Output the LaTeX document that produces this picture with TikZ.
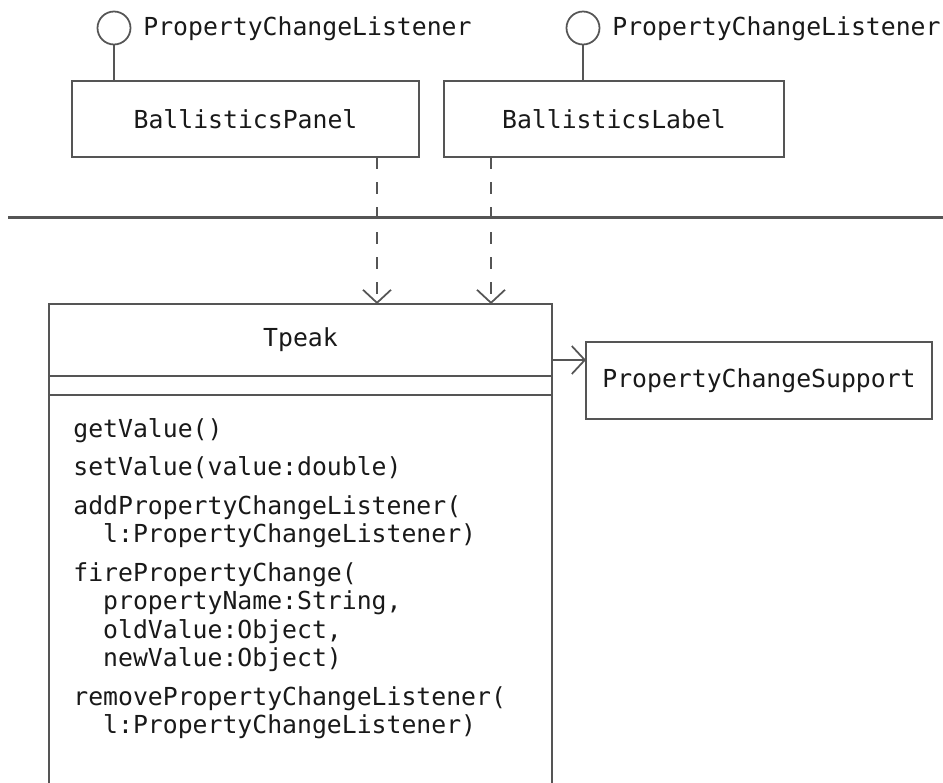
\documentclass[tikz,border=0pt]{standalone}
\usepackage{fontspec}
\newfontfamily\umlfont{DejaVu Sans Mono}
\usetikzlibrary{arrows.meta,positioning}
\definecolor{umlline}{RGB}{85,85,85}
\definecolor{umltext}{RGB}{25,25,25}
\newcommand\umlsize{\umlfont\fontsize{14.1pt}{16.2pt}\selectfont}
\tikzset{
  classbox/.style={draw=umlline,line width=0.4mm,fill=white,inner sep=0pt,outer sep=0pt,font=\umlsize,text=umltext},
  lolly/.style={circle,draw=umlline,line width=0.35mm,minimum size=6.6mm,inner sep=0pt,outer sep=0pt},
  stem/.style={draw=umlline,line width=0.35mm},
  iface/.style={anchor=base west,inner sep=0pt,font=\umlsize,text=umltext},
  optext/.style={anchor=base west,inner sep=0pt,font=\umlsize,text=umltext},
  boundary/.style={draw=umlline,line width=0.6mm},
  depend/.style={-{Straight Barb[length=2.6mm,width=5.6mm]},draw=umlline,line width=0.35mm,dash pattern=on 2.3mm off 2.7mm},
  assoc/.style={-{Straight Barb[length=2.6mm,width=5.6mm]},draw=umlline,line width=0.35mm}
}

\begin{document}
\begin{tikzpicture}[x=0.2mm,y=-0.2mm]
\useasboundingbox (0,0) rectangle (943,783);
\clip (0,0) rectangle (943,783);

% layer boundary
\coordinate (sepL) at (8,217);
\coordinate (sepR) at (943,217);
\draw[boundary] (sepL) -- (sepR);

% view side
\node[classbox,minimum width=69.4mm,minimum height=15.2mm] (panel) at (245.5,119) {BallisticsPanel};
\node[classbox,minimum width=68mm,minimum height=15.2mm] (label) at (614,119) {BallisticsLabel};

\foreach \cls/\x/\nm in {panel/114/lolA,label/583/lolB}{
  \node[lolly] (\nm) at (\x,28) {};
  \draw[stem] (\nm.south) -- (\nm.south |- \cls.north);
  \node[iface] (\nm text) at (\x+29,35) {PropertyChangeListener};
}

% model side
\node[classbox,minimum width=100.6mm,minimum height=14.4mm] (tpeak) at (300.5,340) {Tpeak};
\node[classbox,minimum width=100.6mm,minimum height=3.8mm,below=0pt of tpeak] (tattrs) {};
\node[classbox,minimum width=100.6mm,minimum height=90mm,below=0pt of tattrs] (tops) {};

\foreach \y/\op [count=\i] in {
  437/{getValue()},
  475.5/{setValue(value:double)},
  514/{addPropertyChangeListener(},
  542.5/{\phantom{xx}l:PropertyChangeListener)},
  581/{firePropertyChange(},
  609.5/{\phantom{xx}propertyName:String,},
  638/{\phantom{xx}oldValue:Object,},
  666.5/{\phantom{xx}newValue:Object)},
  705/{removePropertyChangeListener(},
  733.5/{\phantom{xx}l:PropertyChangeListener)}}{
  \node[optext] (op\i) at (73,\y) {\op};
}

\node[classbox,minimum width=69.2mm,minimum height=15.4mm] (support) at (759,380.5) {PropertyChangeSupport};

\coordinate (assocA) at ([yshift=-4mm]tpeak.east);
\draw[assoc] (assocA) -- (assocA -| support.west);

% listeners registered with the model
\coordinate (depA) at (377,304);
\coordinate (depB) at (491,304);
\draw[depend] (panel.south -| depA) -- (depA);
\draw[depend] (label.south -| depB) -- (depB);

\end{tikzpicture}
\end{document}
